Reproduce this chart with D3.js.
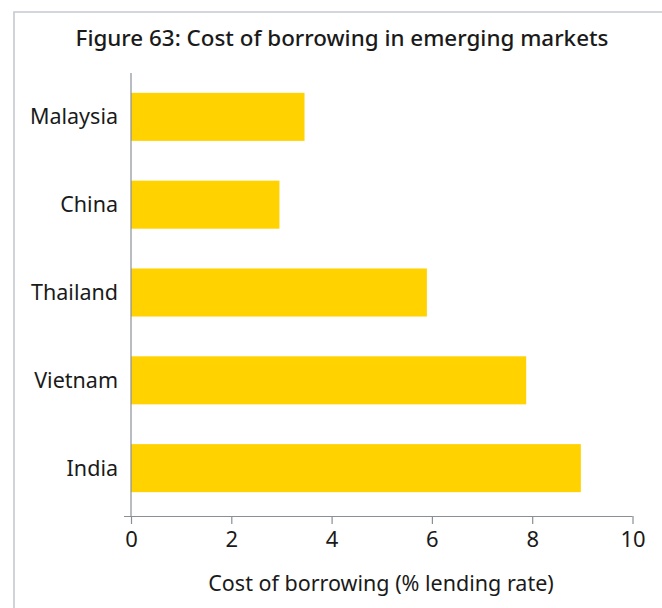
<!DOCTYPE html>
<html>
<head>
<meta charset="utf-8">
<script src="https://cdn.jsdelivr.net/npm/d3@7"></script>
<style>
  html, body { margin: 0; padding: 0; background: #fff; }
  svg { display: block; }
  text { font-family: "Noto Sans", "Open Sans", sans-serif; fill: #1a1a1a; }
</style>
</head>
<body>
<svg id="chart" width="662" height="608"></svg>
<script>
const categories = ["Malaysia", "China", "Thailand", "Vietnam", "India"];
const values = [3.46, 2.96, 5.90, 7.88, 8.97];
const xTicks = [0, 2, 4, 6, 8, 10];
const titleText = "Figure 63: Cost of borrowing in emerging markets";
const xAxisTitle = "Cost of borrowing (% lending rate)";

const svg = d3.select("#chart");

// frame
svg.append("path")
  .attr("d", "M14,620 L14,12 L680,12")
  .attr("fill", "none")
  .attr("stroke", "#c5cacf")
  .attr("stroke-width", 1.6);

const x = d3.scaleLinear().domain([0, 10]).range([131, 632.5]);
const y = d3.scaleBand().domain(categories).range([73, 512]).paddingInner(0.453).paddingOuter(0.226);

svg.append("text")
  .attr("x", 342).attr("y", 46)
  .attr("text-anchor", "middle")
  .style("font-size", "22.4px")
  .style("font-weight", "500")
  .text(titleText);

svg.selectAll("rect.bar")
  .data(categories)
  .join("rect")
  .attr("class", "bar")
  .attr("x", x(0))
  .attr("y", d => y(d))
  .attr("width", (d, i) => x(values[i]) - x(0))
  .attr("height", y.bandwidth())
  .attr("fill", "#ffd200");

// y axis line
svg.append("line")
  .attr("x1", x(0)).attr("x2", x(0))
  .attr("y1", 73).attr("y2", 516)
  .attr("stroke", "#8a8f96").attr("stroke-width", 1.2);

// category labels
svg.selectAll("text.cat")
  .data(categories)
  .join("text")
  .attr("class", "cat")
  .attr("x", 118)
  .attr("y", d => y(d) + y.bandwidth() / 2)
  .attr("dy", "0.35em")
  .attr("text-anchor", "end")
  .style("font-size", "21.5px")
  .text(d => d);

// x axis
const xAxis = d3.axisBottom(x).tickValues(xTicks).tickSize(8).tickSizeOuter(0).tickFormat(d3.format("d"));
const gx = svg.append("g").attr("transform", "translate(0,516)").call(xAxis);
gx.select(".domain").attr("d", `M124,0.5H${x(10)}`).attr("stroke", "#8a8f96").attr("stroke-width", 1.2);
gx.selectAll(".tick line").attr("stroke", "#8a8f96").attr("stroke-width", 1.2);
gx.selectAll(".tick text")
  .attr("y", 15)
  .attr("dy", "0.71em")
  .style("font-size", "22px")
  .style("font-family", "'Noto Sans', 'Open Sans', sans-serif")
  .attr("fill", "#1a1a1a");

svg.append("text")
  .attr("x", 381).attr("y", 591)
  .attr("text-anchor", "middle")
  .style("font-size", "21.5px")
  .text(xAxisTitle);
</script>
</body>
</html>
